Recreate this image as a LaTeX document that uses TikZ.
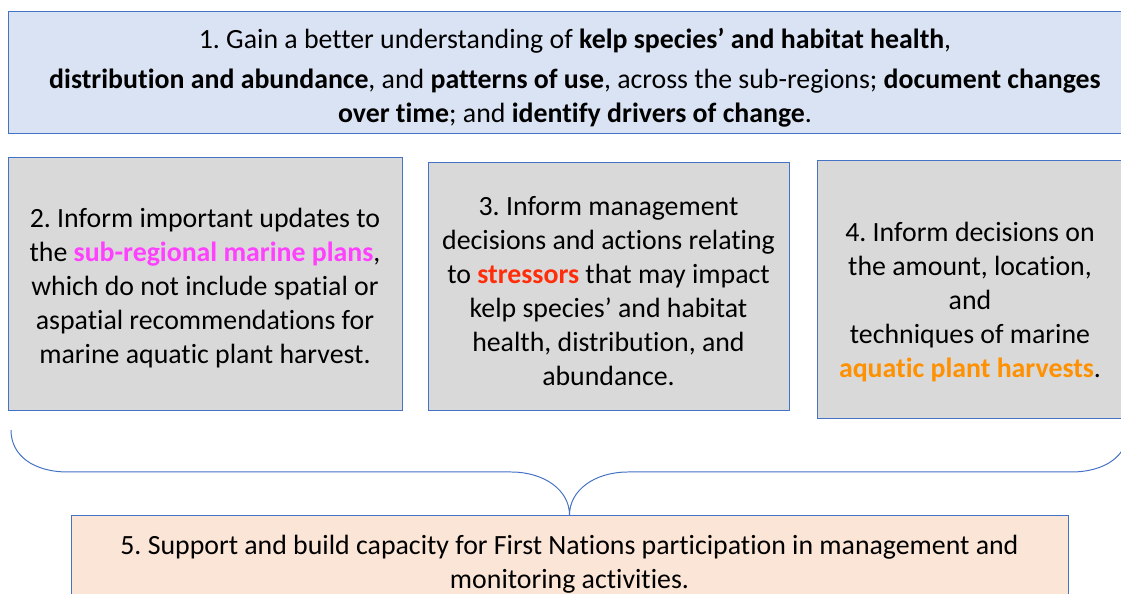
\documentclass[tikz,border=0pt]{standalone}
\usepackage{fontspec}
\setmainfont{Carlito}[Ligatures=NoCommon]
\usepackage{xcolor}
\definecolor{boxline}{HTML}{4472C4}
\definecolor{topfill}{HTML}{DAE3F3}
\definecolor{greyfill}{HTML}{D9D9D9}
\definecolor{peachfill}{HTML}{FBE5D6}
\definecolor{plancol}{HTML}{FF40FF}
\definecolor{stresscol}{HTML}{FF2D0A}
\definecolor{harvcol}{HTML}{FF9000}
\frenchspacing

\begin{document}
\begin{tikzpicture}[
    goalbox/.style={draw=boxline, line width=0.7pt, align=center, inner sep=0pt,
        font=\fontsize{19.8}{24.2}\selectfont},
    greybox/.style={goalbox, fill=greyfill},
    bracestyle/.style={draw=boxline, line width=0.7pt}
  ]
            \clip (0, 0) rectangle (28.025, 14.85);
            \fill[white] (0, 0) rectangle (28.025, 14.85);

            \node[goalbox, fill=topfill, minimum width=28.35cm, minimum height=3.05cm] (aim1) at (14.375, 13.025)
                {\rule{0pt}{20.5pt}1. Gain a better understanding of \textbf{kelp species’ and habitat health},\\[0.15cm]
                 \textbf{distribution and abundance}, and \textbf{patterns of use}, across the sub-regions; \textbf{document changes}\\
                 \textbf{over time}; and \textbf{identify drivers of change}.};

            \node[greybox, minimum width=9.85cm, minimum height=6.325cm] (aim2) at (5.125, 7.7375)
                {\rule{0pt}{19pt}2. Inform important updates to\\
                 the \textcolor{plancol}{\textbf{sub-regional marine plans}},\\
                 which do not include spatial or\\
                 aspatial recommendations for\\
                 marine aquatic plant harvest.};

            \node[greybox, minimum width=9.025cm, minimum height=6.2cm] (aim3) at (15.2125, 7.675)
                {\rule{0pt}{19pt}3. Inform management\\
                 decisions and actions relating\\
                 to \textcolor{stresscol}{\textbf{stressors}} that may impact\\
                 kelp species’ and habitat\\
                 health, distribution, and\\
                 abundance.};

            \node[greybox, minimum width=7.65cm, minimum height=6.45cm] (aim4) at (24.25, 7.6)
                {\rule{0pt}{31pt}4. Inform decisions on\\
                 the amount, location,\\
                 and\\
                 techniques of marine\\
                 \textcolor{harvcol}{\textbf{aquatic plant harvests}}.};

            \node[goalbox, fill=peachfill, minimum width=24.925cm, inner ysep=0.5cm, anchor=north] (aim5) at (14.2375, 1.975)
                {5. Support and build capacity for First Nations participation in management and\\
                 monitoring activities.};

            \coordinate (braceL) at (0.275, 4.1);
            \coordinate (braceR) at (28.2, 4.1);
            \draw[bracestyle] (braceL) .. controls (0.275, 3.45) and (0.85, 3.05) .. (1.7, 3.05)
                -- (12.775, 3.05) .. controls (13.6, 3.05) and (14.2375, 2.6) .. (aim5.north)
                .. controls (14.2375, 2.6) and (14.875, 3.05) .. (15.7, 3.05)
                -- (26.775, 3.05) .. controls (27.625, 3.05) and (28.2, 3.45) .. (braceR);
        \end{tikzpicture}
\end{document}
